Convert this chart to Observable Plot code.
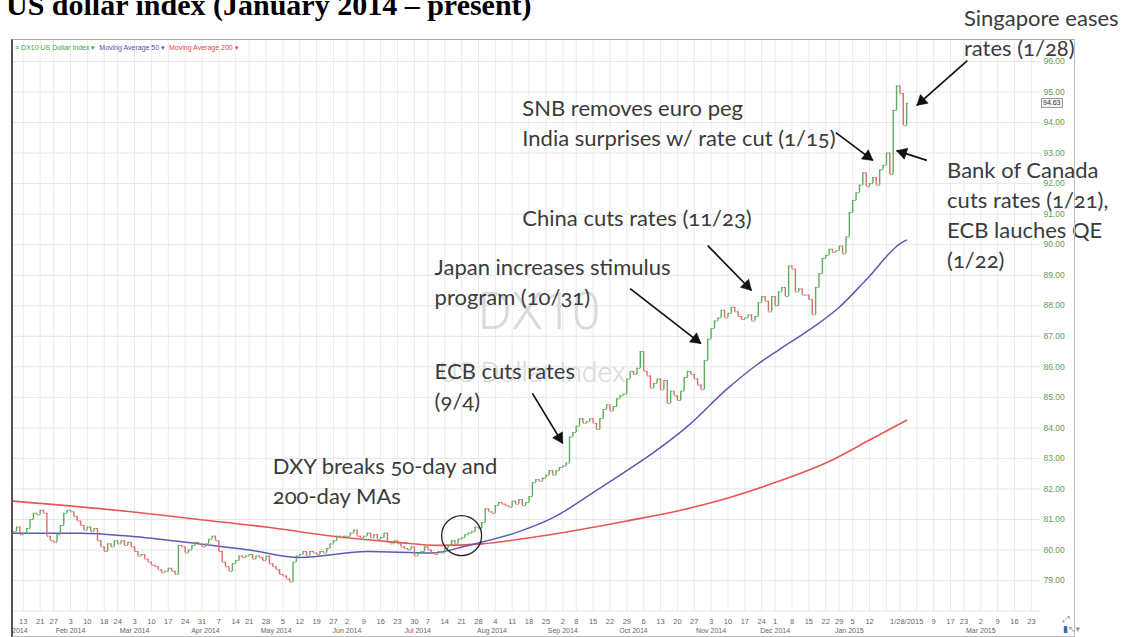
<!DOCTYPE html>
<html><head><meta charset="utf-8">
<script src="https://cdn.jsdelivr.net/npm/d3@7"></script>
<script src="https://cdn.jsdelivr.net/npm/@observablehq/plot@0.6"></script>
<style>
body{margin:0;background:#fff;}
#wrap{position:relative;width:1129px;height:637px;overflow:hidden;background:#fff;}
#chart{position:absolute;left:0;top:0;}
#title{position:absolute;left:6px;top:-10px;font:bold 30px/30px "Liberation Serif","Times New Roman",serif;color:#000;white-space:nowrap;}
#panel{position:absolute;left:11px;top:39px;width:1061px;height:596px;border-left:2px solid #555;border-top:1px solid #aaa;border-right:1px solid #bbb;border-bottom:1px solid #bbb;pointer-events:none;}
#legend{position:absolute;left:15px;top:44px;font:7px "Liberation Sans",Arial,sans-serif;white-space:nowrap;}
#mask{position:absolute;left:0;top:598px;width:11px;height:39px;background:#fff;}
#last{position:absolute;left:1041px;font:7px/8px "Liberation Sans",Arial,sans-serif;border:1px solid #999;background:#f3f3f3;color:#333;padding:0 1px;}
#icons{position:absolute;left:1063px;top:614px;font:9px "DejaVu Sans",sans-serif;color:#999;line-height:10px;}
g[font-family^="Lato"] text{font-variant-numeric:oldstyle-nums;}
</style></head><body>
<div id="wrap">
<div id="chart"></div>
<div id="mask"></div>
<div id="panel"></div>
<div id="title">US dollar index (January 2014 – present)</div>
<div id="legend"><span style="color:#4b9a4b">≡ DX10 US Dollar Index ▾</span>&nbsp;&nbsp;<span style="color:#4f4fb0">Moving Average 50 ▾</span>&nbsp;&nbsp;<span style="color:#e04848">Moving Average 200 ▾</span></div>
<div id="last"></div>
<div id="icons">⤢<br><span style="color:#3a66b0">▮</span>↖▾</div>
</div>
<script>
// ---------- calendar ----------
const holidays = ["2014-01-01","2014-01-20","2014-02-17","2014-04-18","2014-05-26","2014-07-04","2014-09-01","2014-11-27","2014-12-25","2015-01-01","2015-01-19","2015-02-16","2015-04-03"];
const fmt = d3.utcFormat("%Y-%m-%d");
const hol = new Set(holidays);
const tradingDays = d3.utcDay.range(new Date("2014-01-02"), new Date("2015-04-20"))
  .filter(d => d.getUTCDay() % 6 !== 0 && !hol.has(fmt(d))).map(fmt);
const pos = new Map(tradingDays.map((d, i) => [d, i]));

// ---------- daily closes (from 2014-01-08 to 2015-01-28) ----------
const closeJan14 = [80.60,80.75,80.50,80.55,80.70,81.00,81.20,81.15,81.30,81.20,80.45,80.30,80.25,80.50,80.80,81.20,81.30];
const closeFeb14 = [81.25,81.10,80.95,80.80,80.65,80.75,80.60,80.70,80.30,80.10,79.95,80.20,80.10,80.30,80.20,80.30,80.15,80.25,80.10];
const closeMar14 = [79.95,79.80,79.85,79.70,79.60,79.50,79.45,79.35,79.25,79.30,79.40,79.30,79.20,80.15,80.10,79.90,80.00,80.15,80.25,80.20,80.10];
const closeApr14 = [80.20,80.35,80.45,80.30,79.95,79.60,79.45,79.30,79.55,79.65,79.80,79.75,79.80,79.85,79.70,79.80,79.75,79.65,79.80,79.55,79.45];
const closeMay14 = [79.35,79.20,79.15,79.05,78.95,79.60,79.80,79.85,79.95,79.80,79.95,79.90,79.85,79.95,79.90,80.05,80.20,80.30,80.45,80.40,80.45];
const closeJun14 = [80.45,80.55,80.65,80.45,80.40,80.45,80.55,80.40,80.50,80.35,80.40,80.55,80.25,80.20,80.30,80.20,80.10,80.05,80.00,80.10,79.80];
const closeJul14 = [79.90,79.95,80.10,80.00,79.90,79.85,79.95,79.90,80.05,80.15,80.30,80.20,80.35,80.40,80.50,80.55,80.60,80.75,80.70,80.90,81.35,81.25];
const closeAug14 = [81.20,81.45,81.55,81.50,81.45,81.40,81.60,81.50,81.65,81.45,81.55,81.75,82.20,82.30,82.25,82.35,82.45,82.60,82.45,82.60,82.70];
const closeSep14 = [82.75,82.85,83.70,83.85,84.05,84.30,84.15,84.20,84.30,84.15,83.95,84.30,84.60,84.75,84.55,84.70,84.95,85.05,85.10,85.60,85.85];
const closeOct14 = [85.75,85.95,86.50,85.85,85.70,85.30,85.45,85.60,85.25,85.55,84.80,85.20,85.05,84.90,85.20,85.65,85.85,85.75,85.60,85.40,85.25,86.20,86.90];
const closeNov14 = [87.25,87.50,87.60,87.85,87.60,87.75,87.95,87.80,87.65,87.55,87.60,87.70,87.50,87.65,88.10,88.30,88.15,87.80,88.30];
const closeDec14 = [88.00,88.45,88.60,88.30,89.30,89.20,88.45,88.55,88.35,88.35,88.20,87.70,88.60,89.05,89.55,89.65,89.85,89.75,89.80,89.95,89.70,90.25];
const closeJan15 = [91.05,91.45,91.70,91.95,92.35,91.90,92.00,92.20,91.95,92.45,92.60,93.00,92.30,94.40,95.20,94.95,93.90,94.63];
const firstDate = "2014-01-08";

// ---------- moving averages (read at sample dates) ----------
const ma50 = [["2014-01-08",80.55],["2014-02-06",80.55],["2014-02-28",80.45],["2014-03-28",80.2],["2014-04-21",80.0],["2014-05-12",79.75],["2014-06-10",79.95],["2014-07-08",79.9],["2014-07-23",80.15],["2014-08-13",80.6],["2014-08-27",81.05],["2014-09-16",81.95],["2014-09-29",82.6],["2014-10-09",83.2],["2014-10-23",84.05],["2014-11-10",85.3],["2014-11-21",86.1],["2014-12-02",86.55],["2014-12-15",87.2],["2014-12-29",87.95],["2015-01-09",88.85],["2015-01-27",90.1],["2015-01-28",90.15]];
const ma200 = [["2014-01-08",81.6],["2014-02-28",81.25],["2014-03-28",81.0],["2014-04-28",80.75],["2014-05-27",80.45],["2014-06-23",80.25],["2014-07-10",80.15],["2014-07-29",80.2],["2014-08-13",80.35],["2014-08-29",80.55],["2014-09-29",80.95],["2014-10-21",81.3],["2014-11-10",81.7],["2014-12-02",82.25],["2014-12-23",82.9],["2015-01-12",83.6],["2015-01-28",84.25]];

// ---------- axis ticks ----------
const weekStarts = ["2014-01-13","2014-01-21","2014-01-27","2014-02-03","2014-02-10","2014-02-18","2014-02-24","2014-03-03","2014-03-10","2014-03-17","2014-03-24","2014-03-31","2014-04-07","2014-04-14","2014-04-21","2014-04-28","2014-05-05","2014-05-12","2014-05-19","2014-05-27","2014-06-02","2014-06-09","2014-06-16","2014-06-23","2014-06-30","2014-07-07","2014-07-14","2014-07-21","2014-07-28","2014-08-04","2014-08-11","2014-08-18","2014-08-25","2014-09-02","2014-09-08","2014-09-15","2014-09-22","2014-09-29","2014-10-06","2014-10-13","2014-10-20","2014-10-27","2014-11-03","2014-11-10","2014-11-17","2014-11-24","2014-12-01","2014-12-08","2014-12-15","2014-12-22","2014-12-29","2015-01-05","2015-01-12","2015-01-20","2015-01-26","2015-02-02","2015-02-09","2015-02-17","2015-02-23","2015-03-02","2015-03-09","2015-03-16","2015-03-23"];
const hiddenWeeks = ["2015-01-20","2015-01-26","2015-02-02"];
const cursorDate = "2015-01-28", cursorLabel = "1/28/2015";
const monthDates = ["2014-01-08","2014-02-03","2014-03-03","2014-04-01","2014-05-01","2014-06-02","2014-07-01","2014-08-01","2014-09-02","2014-10-01","2014-11-03","2014-12-01","2015-01-02","2015-03-02"];
const monthNames = ["Jan 2014","Feb 2014","Mar 2014","Apr 2014","May 2014","Jun 2014","Jul 2014","Aug 2014","Sep 2014","Oct 2014","Nov 2014","Dec 2014","Jan 2015","Mar 2015"];
const yTicks = [79,80,81,82,83,84,85,86,87,88,89,90,91,92,93,94,95,96];
const yGrid = [78,79,80,81,82,83,84,85,86,87,88,89,90,91,92,93,94,95,96];

// ---------- annotations ----------
const notes = [
  {date:"2014-04-30", v:83.18, text:"DXY breaks 50-day and\n200-day MAs"},
  {date:"2014-07-09", v:86.29, text:"ECB cuts rates\n(9/4)"},
  {date:"2014-07-09", v:89.70, text:"Japan increases stimulus\nprogram (10/31)"},
  {date:"2014-08-14", v:91.30, text:"China cuts rates (11/23)"},
  {date:"2014-08-14", v:94.91, text:"SNB removes euro peg\nIndia surprises w/ rate cut (1/15)"},
  {date:"2015-02-13", v:92.88, text:"Bank of Canada\ncuts rates (1/21),\nECB lauches QE\n(1/22)"},
  {date:"2015-02-23", v:97.87, text:"Singapore eases\nrates (1/28)"}
];
const arrows = [
  {d1:"2014-08-19", v1:85.13, d2:"2014-09-02", v2:83.49},
  {d1:"2014-09-30", v1:88.56, d2:"2014-10-29", v2:86.76},
  {d1:"2014-10-31", v1:89.97, d2:"2014-11-19", v2:88.50},
  {d1:"2014-12-26", v1:93.67, d2:"2015-01-13", v2:92.76},
  {d1:"2015-02-05", v1:92.76, d2:"2015-01-23", v2:93.08},
  {d1:"2015-02-24", v1:96.03, d2:"2015-02-02", v2:94.56}
];
const breakout = [{date:"2014-07-21", v:80.47}];
const watermark = [{date:"2014-08-21", v:87.25, text:"DX10", size:52}, {date:"2014-08-19", v:85.49, text:"US Dollar Index", size:28}];

// ---------- build bars ----------
const closes = [].concat(closeJan14, closeFeb14, closeMar14, closeApr14, closeMay14, closeJun14, closeJul14, closeAug14, closeSep14, closeOct14, closeNov14, closeDec14, closeJan15);
const i0 = pos.get(firstDate);
const bars = closes.map((c, k) => ({i: i0 + k, open: k ? closes[k-1] : c, close: c}));
const up = bars.filter(b => b.close >= b.open), down = bars.filter(b => b.close < b.open);
const ma50Data = ma50.map(([d, v]) => ({i: pos.get(d), v}));
const ma200Data = ma200.map(([d, v]) => ({i: pos.get(d), v}));
const dayTicks = weekStarts.filter(d => !hiddenWeeks.includes(d)).map(d => pos.get(d)).concat([pos.get(cursorDate)]);
const dayLabel = new Map(weekStarts.map(d => [pos.get(d), String(+d.slice(8))]));
dayLabel.set(pos.get(cursorDate), cursorLabel);
const monthTicks = monthDates.map(d => pos.get(d));
const monthLabel = new Map(monthDates.map((d, k) => [pos.get(d), monthNames[k]]));
const arrowData = arrows.map(a => ({x1: pos.get(a.d1), y1: a.v1, x2: pos.get(a.d2), y2: a.v2}));

const UP = "#5cad5c", DOWN = "#e06a6a";
function barMarks(data, color) {
  return [
    Plot.ruleX(data, {x: "i", y1: "open", y2: "close", stroke: color, strokeWidth: 1.4}),
    Plot.link(data, {x1: d => d.i - 0.45, x2: "i", y1: "open", y2: "open", stroke: color, strokeWidth: 1}),
    Plot.link(data, {x1: "i", x2: d => d.i + 0.45, y1: "close", y2: "close", stroke: color, strokeWidth: 1})
  ];
}

function makePlot(extra) {
  return Plot.plot({
    width: 1129, height: 637,
    marginLeft: 12, marginRight: 89, marginTop: 40, marginBottom: 25,
    style: {background: "transparent", overflow: "visible"},
    x: {type: "linear", domain: [3.8, 308.7]},
    y: {domain: [77.952, 96.688]},
    marks: [
      Plot.gridY(yGrid, {stroke: "#e6e6e6", strokeOpacity: 1}),
      Plot.gridX(weekStarts.map(d => pos.get(d)), {stroke: "#ebebeb", strokeOpacity: 1}),
      Plot.text(watermark, {x: d => pos.get(d.date), y: "v", text: "text", fontSize: d => d.size, textAnchor: "middle", lineAnchor: "bottom", fill: "#d9d9d9", fontFamily: "Roboto", fontWeight: 300}),
      Plot.line(ma200Data, {x: "i", y: "v", stroke: "#e85555", strokeWidth: 1.6, curve: "monotone-x"}),
      Plot.line(ma50Data, {x: "i", y: "v", stroke: "#5a5ab8", strokeWidth: 1.5, curve: "monotone-x"}),
      ...barMarks(up, UP),
      ...barMarks(down, DOWN),
      Plot.dot(breakout, {x: d => pos.get(d.date), y: "v", r: 20, stroke: "#222", strokeWidth: 1.3, fill: "none"}),
      Plot.link(arrowData, {x1: "x1", y1: "y1", x2: "x2", y2: "y2", stroke: "#111", strokeWidth: 1.7}),
      ...extra,
      Plot.text(notes, {x: d => pos.get(d.date), y: "v", text: "text", textAnchor: "start", lineAnchor: "top", fontSize: 22, lineHeight: 1.364, fontFamily: "Lato", fill: "#3b3b3b"}),
      Plot.axisY(yTicks, {anchor: "right", tickFormat: d => d.toFixed(2), tickSize: 0, tickPadding: 3, fill: "#5a9e5a", fontSize: 8.5, fontFamily: "Liberation Sans", label: null}),
      Plot.axisX(dayTicks, {tickFormat: i => dayLabel.get(i), tickSize: 0, tickPadding: 6, fill: "#666", fontSize: 7.5, fontFamily: "Liberation Sans", label: null}),
      Plot.axisX(monthTicks, {tickFormat: i => monthLabel.get(i), tickSize: 0, tickPadding: 16, fill: "#666", fontSize: 7, fontFamily: "Liberation Sans", label: null})
    ]
  });
}

// first pass: get the scales, then place filled arrowheads at the tips
const probe = makePlot([]);
const sx = probe.scale("x"), sy = probe.scale("y");
const headR = 4.3, headBack = 2 * Math.sqrt(Math.PI * headR * headR / (3 * Math.sqrt(3)));
const heads = arrowData.map(a => {
  const px1 = sx.apply(a.x1), py1 = sy.apply(a.y1), px2 = sx.apply(a.x2), py2 = sy.apply(a.y2);
  const L = Math.hypot(px2 - px1, py2 - py1), ux = (px2 - px1) / L, uy = (py2 - py1) / L;
  return {x: sx.invert(px2 - ux * headBack), y: sy.invert(py2 - uy * headBack), rot: Math.atan2(ux, -uy) * 180 / Math.PI};
});
const plot = makePlot([
  Plot.dot(heads, {x: "x", y: "y", symbol: "triangle", r: headR, rotate: "rot", fill: "#111", stroke: "#111", strokeWidth: 0.5})
]);
document.getElementById("chart").appendChild(plot);
const last = closes[closes.length - 1];
const lastEl = document.getElementById("last");
lastEl.textContent = last.toFixed(2);
lastEl.style.top = (plot.scale("y").apply(last) - 5) + "px";
</script>
</body></html>
